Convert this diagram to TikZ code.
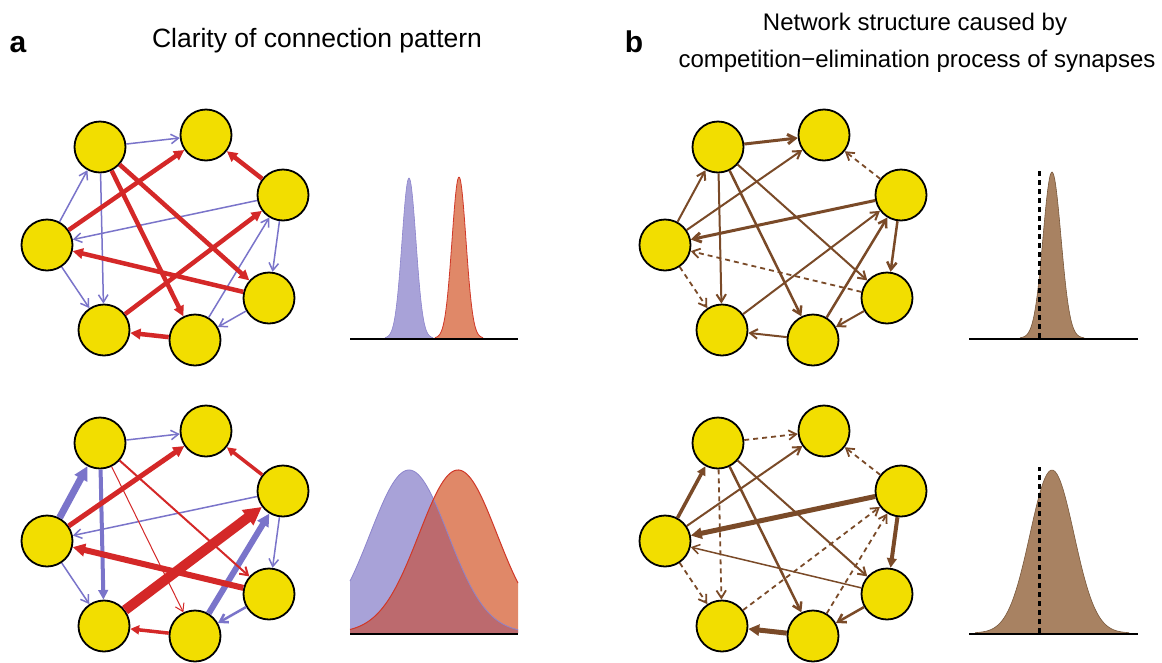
\documentclass[tikz,border=0pt]{standalone}
\usepackage{fontspec}
\setmainfont{Liberation Sans}
\usetikzlibrary{arrows.meta}
\definecolor{nodeyellow}{RGB}{242,222,0}
\definecolor{edgeblue}{RGB}{122,116,202}
\definecolor{edgered}{RGB}{212,40,40}
\definecolor{edgebrown}{RGB}{122,74,40}
\definecolor{bluefill}{RGB}{168,162,216}
\definecolor{blueline}{RGB}{140,132,204}
\definecolor{redfill}{RGB}{224,136,104}
\definecolor{redline}{RGB}{208,56,40}
\definecolor{overlapfill}{RGB}{188,106,110}
\definecolor{brownfill}{RGB}{168,130,98}
\definecolor{brownline}{RGB}{120,88,60}
\tikzset{
  neuron/.style={circle, draw=black, line width=1.8pt, fill=nodeyellow, minimum size=51pt, inner sep=0pt},
  barb/.style={-{Straight Barb[length=7.5pt,width=9.5pt]}},
  tri/.style={-{Triangle[length=4pt 1.4,width=4pt 1.4]}},
  blu/.style={draw=edgeblue, line width=#1},
  rd/.style={draw=edgered, line width=#1},
  brn/.style={draw=edgebrown, line width=#1},
  dsh/.style={dash pattern=on 5pt off 4pt},
  axisline/.style={draw=black, line width=2pt},
  meanline/.style={draw=black, line width=3pt, dash pattern=on 5pt off 4pt},
  titletext/.style={anchor=base, inner sep=0pt},
}
\newcommand\mynet[3]{%
  \node[neuron] (#1-1) at ({100+#2},{147+#3}) {};
  \node[neuron] (#1-2) at ({206+#2},{135+#3}) {};
  \node[neuron] (#1-3) at ({283+#2},{195+#3}) {};
  \node[neuron] (#1-4) at ({47+#2},{245+#3}) {};
  \node[neuron] (#1-5) at ({269+#2},{298+#3}) {};
  \node[neuron] (#1-6) at ({104+#2},{330+#3}) {};
  \node[neuron] (#1-7) at ({195+#2},{340+#3}) {};
}
\begin{document}
\begin{tikzpicture}[x=1pt,y=-1pt]
\useasboundingbox (0,0) rectangle (1162,662);
\fill[white] (0,0) rectangle (1162,662);

% titles
\node[titletext, font=\fontsize{30}{34}\selectfont\bfseries] (la) at (18,52) {a};
\node[titletext, font=\fontsize{26.5}{30}\selectfont] (ta) at (317,47) {Clarity of connection pattern};
\node[titletext, font=\fontsize{30}{34}\selectfont\bfseries] (lb) at (634,52) {b};
\node[titletext, font=\fontsize{24}{28}\selectfont] (tb1) at (915,30) {Network structure caused by};
\node[titletext, font=\fontsize{24}{28}\selectfont] (tb2) at (917,67) {competition−elimination process of synapses};

% networks
\mynet{A}{0}{0}
\mynet{B}{0}{296}
\mynet{C}{618}{0}
\mynet{D}{618}{296}

% a top
\draw[blu=1.5, barb] (A-1) -- (A-2);
\draw[blu=1.5, barb] (A-4) -- (A-1);
\draw[blu=1.5, barb] (A-1) -- (A-6);
\draw[blu=1.5, barb] (A-4) -- (A-6);
\draw[blu=1.5, barb] (A-3) -- (A-4);
\draw[blu=1.5, barb] (A-3) -- (A-5);
\draw[blu=1.5, barb] (A-5) -- (A-7);
\draw[blu=1.5, barb] (A-7) -- (A-3);
\draw[rd=4.5, tri] (A-4) -- (A-2);
\draw[rd=4.5, tri] (A-3) -- (A-2);
\draw[rd=4.5, tri] (A-1) -- (A-5);
\draw[rd=4.5, tri] (A-1) -- (A-7);
\draw[rd=4.5, tri] (A-6) -- (A-3);
\draw[rd=4.5, tri] (A-5) -- (A-4);
\draw[rd=4.5, tri] (A-7) -- (A-6);

% a bottom
\draw[blu=1.5, barb] (B-1) -- (B-2);
\draw[blu=7, tri] (B-4) -- (B-1);
\draw[blu=4, tri] (B-1) -- (B-6);
\draw[blu=1.5, barb] (B-4) -- (B-6);
\draw[blu=1.5, barb] (B-3) -- (B-4);
\draw[blu=1.5, barb] (B-3) -- (B-5);
\draw[blu=2.5, barb] (B-5) -- (B-7);
\draw[blu=6, tri] (B-7) -- (B-3);
\draw[rd=5, tri] (B-4) -- (B-2);
\draw[rd=3.5, tri] (B-3) -- (B-2);
\draw[rd=2, barb] (B-1) -- (B-5);
\draw[rd=1, barb] (B-1) -- (B-7);
\draw[rd=10, tri] (B-6) -- (B-3);
\draw[rd=6, tri] (B-5) -- (B-4);
\draw[rd=3.5, tri] (B-7) -- (B-6);

% b top
\draw[brn=3, barb] (C-1) -- (C-2);
\draw[brn=2, barb] (C-4) -- (C-1);
\draw[brn=2, barb] (C-1) -- (C-6);
\draw[brn=1.8, barb, dsh] (C-4) -- (C-6);
\draw[brn=3, barb] (C-3) -- (C-4);
\draw[brn=1.8, barb, dsh] (C-3) -- (C-2);
\draw[brn=2.5, barb] (C-3) -- (C-5);
\draw[brn=2, barb] (C-5) -- (C-7);
\draw[brn=2.5, barb] (C-7) -- (C-3);
\draw[brn=2, barb] (C-4) -- (C-2);
\draw[brn=2, barb] (C-1) -- (C-5);
\draw[brn=2.5, barb] (C-1) -- (C-7);
\draw[brn=2, barb] (C-6) -- (C-3);
\draw[brn=1.8, barb, dsh] (C-5) -- (C-4);
\draw[brn=2, barb] (C-7) -- (C-6);

% b bottom
\draw[brn=1.8, barb, dsh] (D-1) -- (D-2);
\draw[brn=3.5, tri] (D-4) -- (D-1);
\draw[brn=1.8, barb, dsh] (D-1) -- (D-6);
\draw[brn=1.8, barb, dsh] (D-4) -- (D-6);
\draw[brn=5, tri] (D-3) -- (D-4);
\draw[brn=1.8, barb, dsh] (D-3) -- (D-2);
\draw[brn=4, tri] (D-3) -- (D-5);
\draw[brn=2.5, barb] (D-5) -- (D-7);
\draw[brn=1.8, barb, dsh] (D-7) -- (D-3);
\draw[brn=2, barb] (D-4) -- (D-2);
\draw[brn=2, barb] (D-1) -- (D-5);
\draw[brn=2.5, barb] (D-1) -- (D-7);
\draw[brn=1.8, barb, dsh] (D-6) -- (D-3);
\draw[brn=1.5, barb] (D-5) -- (D-4);
\draw[brn=5, tri] (D-7) -- (D-6);

% distribution a top
\fill[bluefill] (385,338) -- plot[domain=385:433, samples=60, smooth] (\x, {338-160*exp(-((\x-409)/7)^2/2)}) -- (433,338) -- cycle;
\draw[blueline, line width=0.6pt] plot[domain=385:433, samples=60, smooth] (\x, {338-160*exp(-((\x-409)/7)^2/2)});
\fill[redfill] (435,338) -- plot[domain=435:483, samples=60, smooth] (\x, {338-161*exp(-((\x-459)/7)^2/2)}) -- (483,338) -- cycle;
\draw[redline, line width=0.8pt] plot[domain=435:483, samples=60, smooth] (\x, {338-161*exp(-((\x-459)/7)^2/2)});
\draw[axisline] (350,339) -- (518,339);

% distribution a bottom
\fill[bluefill] (350,633) -- plot[domain=350:518, samples=80, smooth] (\x, {633-163*exp(-((\x-409)/39)^2/2)}) -- (518,633) -- cycle;
\fill[redfill] (350,633) -- plot[domain=350:518, samples=80, smooth] (\x, {633-163*exp(-((\x-458)/39)^2/2)}) -- (518,633) -- cycle;
\begin{scope}
  \clip (350,633) -- plot[domain=350:518, samples=80, smooth] (\x, {633-163*exp(-((\x-409)/39)^2/2)}) -- (518,633) -- cycle;
  \fill[overlapfill] (350,633) -- plot[domain=350:518, samples=80, smooth] (\x, {633-163*exp(-((\x-458)/39)^2/2)}) -- (518,633) -- cycle;
\end{scope}
\draw[blueline, line width=0.8pt] plot[domain=350:518, samples=80, smooth] (\x, {633-163*exp(-((\x-409)/39)^2/2)});
\draw[redline, line width=1pt] plot[domain=350:518, samples=80, smooth] (\x, {633-163*exp(-((\x-458)/39)^2/2)});
\draw[axisline] (350,634) -- (518,634);

% distribution b top
\fill[brownfill] (1020,338) -- plot[domain=1020:1084, samples=60, smooth] (\x, {338-166*exp(-((\x-1052)/9)^2/2)}) -- (1084,338) -- cycle;
\draw[brownline, line width=0.6pt] plot[domain=1020:1084, samples=60, smooth] (\x, {338-166*exp(-((\x-1052)/9)^2/2)});
\draw[axisline] (969,339) -- (1138,339);
\draw[meanline] (1039,338) -- (1039,170);

% distribution b bottom
\fill[brownfill] (975,633) -- plot[domain=975:1129, samples=80, smooth] (\x, {633-163*exp(-((\x-1052)/22)^2/2)}) -- (1129,633) -- cycle;
\draw[brownline, line width=0.6pt] plot[domain=975:1129, samples=80, smooth] (\x, {633-163*exp(-((\x-1052)/22)^2/2)});
\draw[axisline] (969,634) -- (1138,634);
\draw[meanline] (1039,633) -- (1039,467);
\end{tikzpicture}
\end{document}
